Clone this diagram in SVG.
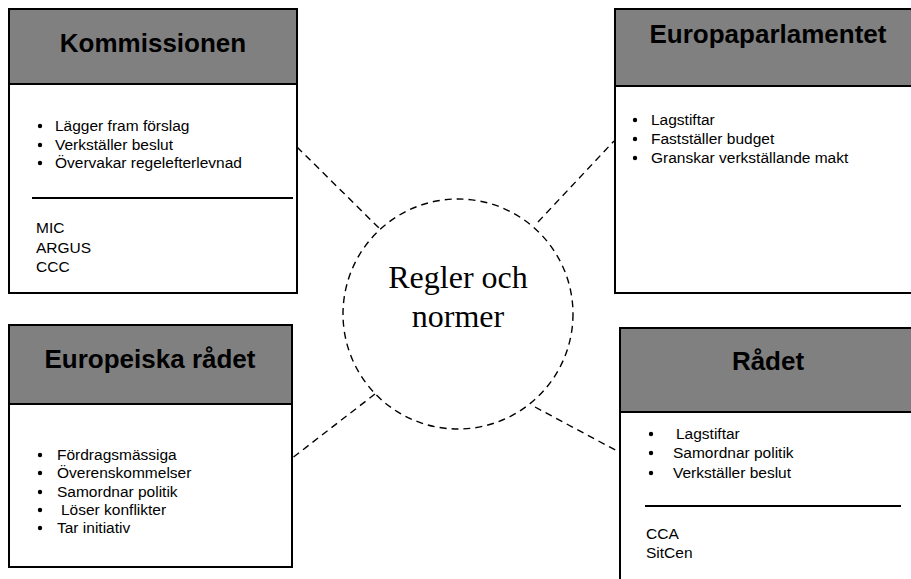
<svg xmlns="http://www.w3.org/2000/svg" width="911" height="579" viewBox="0 0 911 579">
<style>
.box{fill:#fff;stroke:#000;stroke-width:2}
.hdr{fill:#808080;stroke:#000;stroke-width:2}
.title{font-family:"Liberation Sans",Arial,sans-serif;font-weight:bold;font-size:26px;fill:#000;text-anchor:middle}
.t{font-family:"Liberation Sans",Arial,sans-serif;font-size:15.5px;fill:#000}
.sep{stroke:#000;stroke-width:2}
.dash{fill:none;stroke:#000;stroke-width:1.4;stroke-dasharray:7 5}
.ct{font-family:"Liberation Serif","Times New Roman",serif;font-size:32px;fill:#000;text-anchor:middle}
</style>
<rect width="911" height="579" fill="#fff"/>
<g id="connectors">
<line class="dash" x1="297" y1="147" x2="381" y2="230"/>
<line class="dash" x1="538" y1="222" x2="614" y2="141"/>
<line class="dash" x1="375" y1="394" x2="291" y2="459"/>
<line class="dash" x1="535" y1="407" x2="619" y2="452"/>
</g>
<g id="center">
<circle class="dash" cx="458" cy="314" r="115" stroke-dasharray="6 5"/>
<text class="ct" x="458" y="288">Regler och</text>
<text class="ct" x="458" y="327">normer</text>
</g>
<g id="kommissionen">
<rect class="box" x="9" y="9" width="288" height="284"/>
<rect class="hdr" x="9" y="9" width="288" height="75"/>
<text class="title" x="153" y="52">Kommissionen</text>
<g class="t">
<circle cx="40" cy="126" r="2.2"/><text x="55" y="131">Lägger fram förslag</text>
<circle cx="40" cy="145" r="2.2"/><text x="55" y="150">Verkställer beslut</text>
<circle cx="40" cy="163" r="2.2"/><text x="55" y="168">Övervakar regelefterlevnad</text>
</g>
<line class="sep" x1="32" y1="198" x2="293" y2="198"/>
<text class="t" x="36" y="233">MIC</text>
<text class="t" x="36" y="253">ARGUS</text>
<text class="t" x="36" y="272">CCC</text>
</g>
<g id="europaparlamentet">
<rect class="box" x="615" y="9" width="310" height="284"/>
<rect class="hdr" x="615" y="9" width="310" height="77"/>
<text class="title" x="768" y="43">Europaparlamentet</text>
<g class="t">
<circle cx="635" cy="120" r="2.2"/><text x="651" y="125">Lagstiftar</text>
<circle cx="635" cy="139" r="2.2"/><text x="651" y="144">Fastställer budget</text>
<circle cx="635" cy="158" r="2.2"/><text x="651" y="163">Granskar verkställande makt</text>
</g>
</g>
<g id="europeiska-radet">
<rect class="box" x="9" y="325" width="283" height="242"/>
<rect class="hdr" x="9" y="325" width="283" height="79"/>
<text class="title" x="150" y="368">Europeiska rådet</text>
<g class="t">
<circle cx="40" cy="455" r="2.2"/><text x="57" y="460">Fördragsmässiga</text>
<circle cx="40" cy="473" r="2.2"/><text x="57" y="478">Överenskommelser</text>
<circle cx="40" cy="492" r="2.2"/><text x="57" y="497">Samordnar politik</text>
<circle cx="40" cy="510" r="2.2"/><text x="61" y="515">Löser konflikter</text>
<circle cx="40" cy="528" r="2.2"/><text x="57" y="533">Tar initiativ</text>
</g>
</g>
<g id="radet">
<rect class="box" x="620" y="328" width="310" height="270"/>
<rect class="hdr" x="620" y="328" width="310" height="84"/>
<text class="title" x="768" y="370">Rådet</text>
<g class="t">
<circle cx="651" cy="434" r="2.2"/><text x="676" y="439">Lagstiftar</text>
<circle cx="651" cy="453" r="2.2"/><text x="673" y="458">Samordnar politik</text>
<circle cx="651" cy="473" r="2.2"/><text x="673" y="478">Verkställer beslut</text>
</g>
<line class="sep" x1="645" y1="506" x2="901" y2="506"/>
<text class="t" x="646" y="539">CCA</text>
<text class="t" x="646" y="558">SitCen</text>
</g>
</svg>
